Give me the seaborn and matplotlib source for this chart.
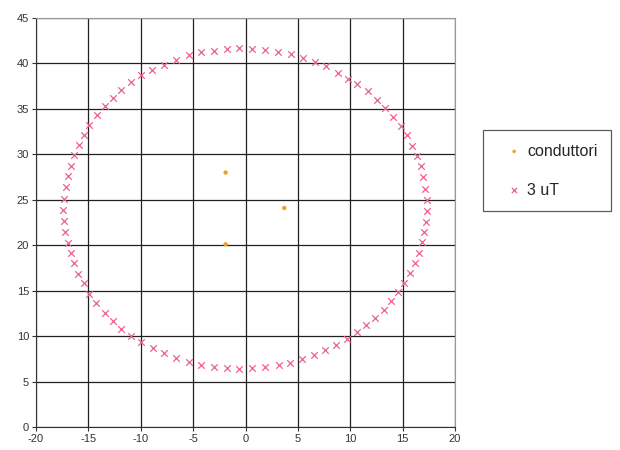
import matplotlib
matplotlib.use("Agg")
import matplotlib.pyplot as plt
import pandas as pd
import seaborn as sns

# Conductor positions
cond_x = [-1.9, -1.9, 3.7]
cond_y = [28.0, 20.1, 24.1]

# 3 uT contour points (clockwise from the top)
ring_x = [-0.6, 0.6, 1.9, 3.1, 4.3, 5.5, 6.65, 7.7, 8.8, 9.75, 10.65, 11.65,
          12.55, 13.35, 14.1, 14.8, 15.4, 15.9, 16.4, 16.7, 16.95, 17.1, 17.35,
          17.3, 17.25, 17.0, 16.85, 16.55, 16.15, 15.65, 15.1, 14.55, 13.9,
          13.2, 12.4, 11.5, 10.65, 9.7, 8.65, 7.6, 6.5, 5.4, 4.25, 3.15, 1.9,
          0.65, -0.6, -1.8, -3.0, -4.25, -5.4, -6.6, -7.8, -8.8, -9.95, -10.9,
          -11.85, -12.65, -13.45, -14.25, -14.95, -15.45, -16.0, -16.4, -16.7,
          -16.95, -17.2, -17.3, -17.4, -17.35, -17.1, -16.95, -16.7, -16.4,
          -15.9, -15.4, -14.9, -14.15, -13.45, -12.65, -11.85, -10.9, -9.95,
          -8.9, -7.8, -6.65, -5.4, -4.25, -3.0, -1.8]
ring_y = [41.7, 41.6, 41.5, 41.25, 41.0, 40.6, 40.2, 39.7, 39.0, 38.3, 37.7, 37.0,
          36.0, 35.1, 34.1, 33.1, 32.1, 30.9, 29.8, 28.7, 27.5, 26.2, 25.0,
          23.8, 22.6, 21.5, 20.35, 19.2, 18.0, 16.9, 15.9, 14.9, 13.9,
          12.9, 12.05, 11.2, 10.5, 9.7, 9.0, 8.45, 7.9, 7.45, 7.1, 6.8, 6.6,
          6.5, 6.4, 6.45, 6.6, 6.8, 7.2, 7.55, 8.1, 8.65, 9.35, 10.0,
          10.8, 11.65, 12.6, 13.6, 14.6, 15.8, 16.8, 18.0, 19.1,
          20.25, 21.5, 22.65, 23.9, 25.1, 26.4, 27.6, 28.7, 29.9,
          31.0, 32.1, 33.2, 34.3, 35.3, 36.2, 37.1, 37.95, 38.7,
          39.3, 39.85, 40.4, 40.95, 41.25, 41.4, 41.6]

df_cond = pd.DataFrame({"x": cond_x, "y": cond_y})
df_ring = pd.DataFrame({"x": ring_x, "y": ring_y})

sns.set_style("white")
plt.rcParams['font.family'] = ['Liberation Sans', 'DejaVu Sans']
plt.rcParams['axes.unicode_minus'] = False

fig = plt.figure(figsize=(6.2, 4.5), dpi=100)
ax = fig.add_axes([0.058, 0.051, 0.676, 0.909])

sns.scatterplot(data=df_cond, x="x", y="y", ax=ax, marker="o", s=10,
                color="#F0A020", edgecolor="none", label="conduttori", zorder=3)
sns.scatterplot(data=df_ring, x="x", y="y", ax=ax, marker="x", s=22,
                color="#EC6090", linewidth=0.9, label="3 uT", zorder=3)

ax.set_xlim(-20, 20)
ax.set_ylim(0, 45)
ax.set_xticks(range(-20, 21, 5))
ax.set_yticks(range(0, 46, 5))
ax.grid(True, color="#202020", linewidth=0.9)
ax.set_axisbelow(True)
ax.set_xlabel("")
ax.set_ylabel("")
ax.tick_params(axis="both", labelsize=8, colors="#333333", length=3,
               direction="out", bottom=True, left=True, pad=2)
for side in ["left", "bottom"]:
    ax.spines[side].set_color("#333333")
for side in ["top", "right"]:
    ax.spines[side].set_color("#999999")

ax.legend_.remove()
handles, labels = ax.get_legend_handles_labels()
leg = fig.legend(handles, labels, loc="upper left",
                 bbox_to_anchor=(0.779, 0.711), fontsize=11.5,
                 frameon=True, fancybox=False, borderpad=0.85,
                 labelspacing=1.5, handletextpad=-0.3, handlelength=2.2,
                 markerscale=0.8, borderaxespad=0)
leg.get_frame().set_edgecolor("#333333")
leg.get_frame().set_linewidth(0.9)

fig.savefig("out.png", dpi=100)
